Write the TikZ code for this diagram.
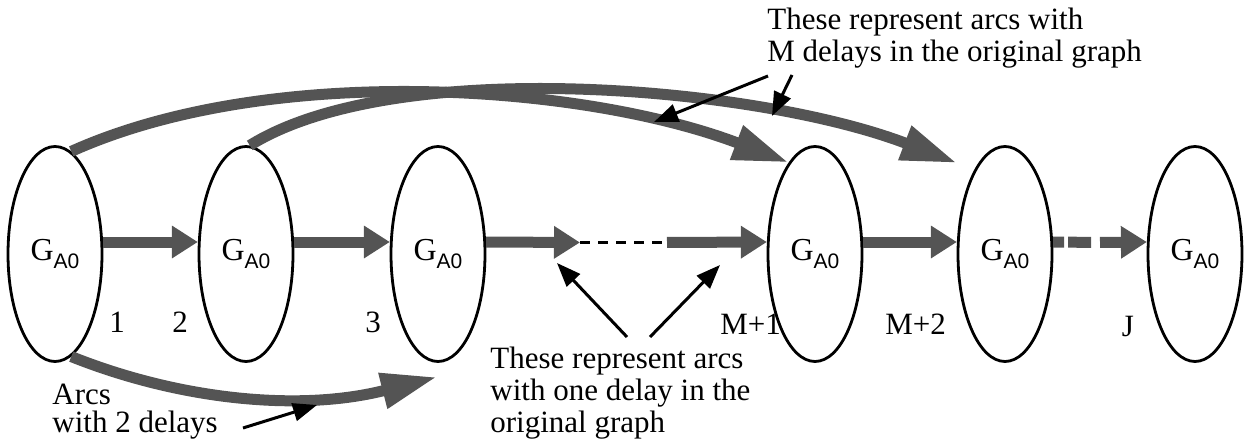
\documentclass[tikz,border=0pt]{standalone}
\usepackage{fontspec}
\setmainfont{Liberation Serif}
\setsansfont{Liberation Sans}
\usepackage{xcolor}
\definecolor{stipple}{gray}{0.33}
\usepackage{tikz}
\usetikzlibrary{
    arrows.meta,
    shapes.geometric
}
\newcommand{\gazero}{G\raisebox{-4pt}{\fontsize{10.5}{10.5}\sffamily A0}}

\begin{document}
\begin{tikzpicture}[x=0.5pt, y=-0.5pt,
    copy/.style={draw, ellipse, line width=1.4pt, minimum width=47pt, minimum height=107.5pt,
        inner sep=0pt, font=\fontsize{16}{16}\selectfont},
    fatarrow/.style={draw=stipple, line width=5.5pt, -{Triangle[length=13pt, width=15.5pt]}},
    fatcurve/.style={draw=stipple, line width=5.5pt, -{Triangle[length=28pt, width=17pt]}},
    pointer/.style={line width=1.5pt, -{Triangle[length=12pt, width=9pt]}},
    note/.style={font=\fontsize{15.5}{16}\selectfont, align=left, inner sep=0pt},
    idx/.style={font=\fontsize{15.5}{16}\selectfont, inner sep=0pt, anchor=base}]

    \useasboundingbox (0,0) rectangle (1248,442);

    % Copies of the graph
    \node[copy] (g1) at (55,254) {\gazero};
    \node[copy] (g2) at (246,254) {\gazero};
    \node[copy] (g3) at (438,254) {\gazero};
    \node[copy] (g4) at (815,254) {\gazero};
    \node[copy] (g5) at (1005,254) {\gazero};
    \node[copy] (g6) at (1195,254) {\gazero};

    % Indices
    \node[idx] (i1) at (117,333) {1};
    \node[idx] (i2) at (180,333) {2};
    \node[idx] (i3) at (373,333) {3};
    \node[idx, anchor=base west] (iM1) at (720,335) {M+1};
    \node[idx, anchor=base west] (iM2) at (885,335) {M+2};
    \node[idx] (iJ) at (1128,337) {J};

    % One-delay arcs
    \coordinate (dashA) at (580,242.5);
    \coordinate (dashB) at (667,242.5);
    \coordinate (gapEnd) at (1100,242.5);
    \draw[fatarrow] (g1.14) -- (g2.166);
    \draw[fatarrow] (g2.14) -- (g3.166);
    \draw[fatarrow] (g3.14) -- (dashA);
    \draw[line width=1.2pt, dash pattern=on 5pt off 4pt] (dashA) -- (dashB);
    \draw[fatarrow] (dashB) -- (g4.166);
    \draw[fatarrow] (g4.14) -- (g5.166);
    \draw[draw=stipple, line width=5.5pt, dash pattern=on 5.5pt off 2pt on 11.5pt off 5pt] (g5.14) -- (gapEnd);
    \draw[fatarrow] (gapEnd) -- (g6.166);

    % M-delay arcs
    \coordinate (tipM2) at (957,163);
    \draw[fatcurve] (g1.81) .. controls (270,62) and (583,84) .. (g4.106);
    \draw[fatcurve] (g2.88) .. controls (395,55) and (757,86) .. (tipM2);

    % Two-delay arc
    \coordinate (tipTwo) at (437,377);
    \draw[fatcurve] (g1.-81) .. controls (180,400) and (300,412) .. (tipTwo);

    % Notes
    \node[note, anchor=north west] (noteM) at (767,7.3)
        {These represent arcs with\\M delays in the original graph};
    \node[note, anchor=north west] (noteOne) at (490,346.8)
        {These represent arcs\\with one delay in the\\original graph};
    \node[note, anchor=north west, font=\fontsize{15.5}{14}\selectfont] (noteTwo) at (52,384)
        {Arcs\\with 2 delays};

    % Pointers
    \coordinate (mTailA) at (768,76);
    \coordinate (mTipA) at (654,122);
    \coordinate (mTailB) at (792,75);
    \coordinate (mTipB) at (772,116);
    \draw[pointer] (mTailA) -- (mTipA);
    \draw[pointer] (mTailB) -- (mTipB);

    \coordinate (oTailA) at (627,337);
    \coordinate (oTipA) at (557,263);
    \coordinate (oTailB) at (650,337);
    \coordinate (oTipB) at (720,265);
    \draw[pointer] (oTailA) -- (oTipA);
    \draw[pointer] (oTailB) -- (oTipB);

    \coordinate (tTail) at (243,428);
    \coordinate (tTip) at (317,405);
    \draw[pointer] (tTail) -- (tTip);
\end{tikzpicture}
\end{document}
